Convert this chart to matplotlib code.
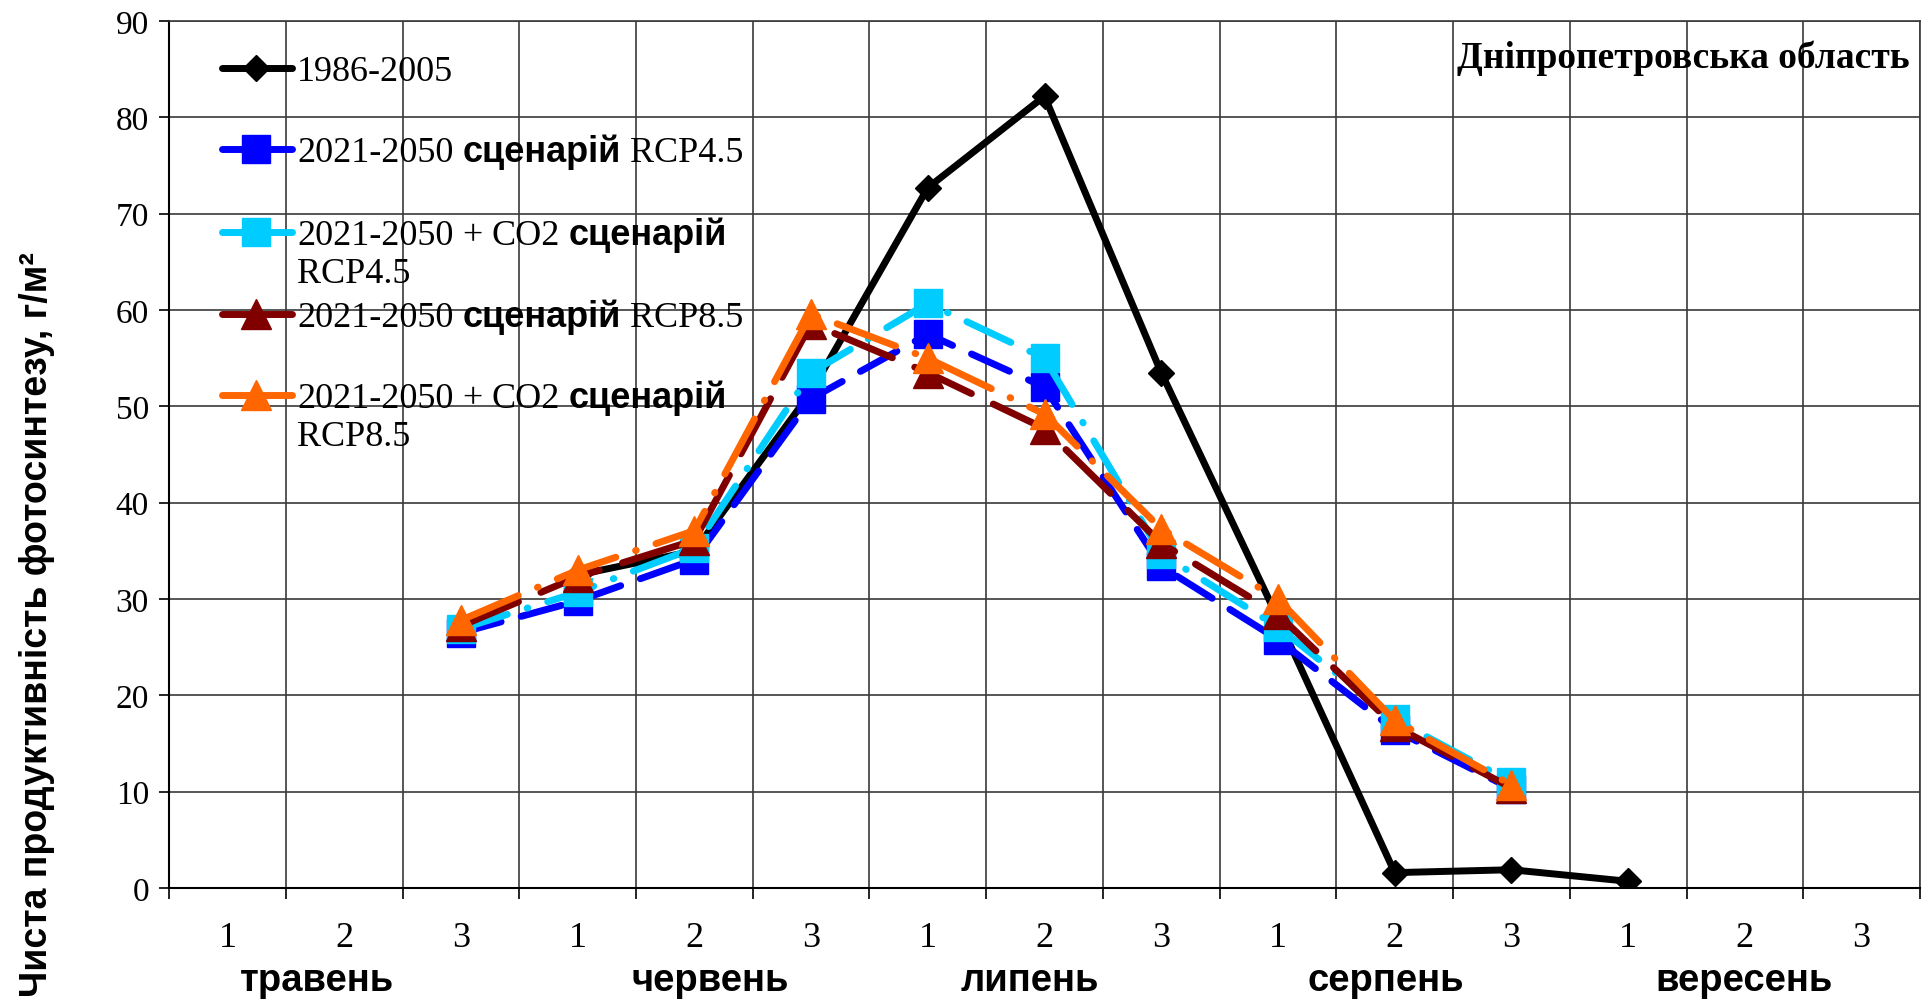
# -*- coding: utf-8 -*-
import matplotlib
matplotlib.use('Agg')
import matplotlib.pyplot as plt
from matplotlib.font_manager import FontProperties
from matplotlib.lines import Line2D
import numpy as np

nan = np.nan

# decades: травень..вересень, 1-3 декада
decades = ['1', '2', '3'] * 5
months = ['травень', 'червень', 'липень', 'серпень', 'вересень']
month_pos = [0.77, 4.14, 6.87, 9.92, 12.99]

base_1986 = [nan, nan, nan, 32.5, 35.0, 51.5, 72.7, 82.2, 53.5, 28.0, 1.6, 1.9, 0.7, nan, nan]
rcp45 = [nan, nan, 26.5, 29.8, 34.1, 50.8, 57.5, 52.0, 33.4, 25.8, 16.4, 10.3, nan, nan, nan]
rcp45_co2 = [nan, nan, 26.9, 30.7, 35.3, 53.5, 60.7, 55.0, 34.7, 27.1, 17.5, 11.0, nan, nan, nan]
rcp85 = [nan, nan, 27.2, 32.3, 36.1, 58.6, 53.5, 47.7, 35.8, 28.4, 16.8, 10.4, nan, nan, nan]
rcp85_co2 = [nan, nan, 27.8, 33.0, 37.1, 59.6, 55.0, 49.2, 37.3, 30.0, 17.4, 10.7, nan, nan, nan]

labels = ['1986-2005',
          '2021-2050 сценарій RCP4.5',
          '2021-2050 + CO2 сценарій|RCP4.5',
          '2021-2050 сценарій RCP8.5',
          '2021-2050 + CO2 сценарій|RCP8.5']

W, H = 1930, 1004
fig = plt.figure(figsize=(W / 100, H / 100), dpi=100)
ax = fig.add_axes([0.0876, 0.1145, 0.9072, 0.8635])

serif = FontProperties(family='Liberation Serif', size=26)
serif_y = FontProperties(family='Liberation Serif', size=24)
serif_x = FontProperties(family='Liberation Serif', size=26)
sans_b = FontProperties(family='Liberation Sans', weight='bold', size=26)
month_fp = FontProperties(family='Liberation Sans', weight='bold', size=27.5)

x = np.arange(15)
LW = 5.0
styles = [
    dict(color='black', marker='D', ms=13, ls='-'),
    dict(color='#0000ff', marker='s', ms=20, dashes=(6, 3)),
    dict(color='#00ccff', marker='s', ms=20, dashes=(7, 3, 0.1, 3)),
    dict(color='#800000', marker='^', ms=21, dashes=(9, 3.5)),
    dict(color='#ff6600', marker='^', ms=21, dashes=(9, 3, 0.1, 3)),
]
series = [base_1986, rcp45, rcp45_co2, rcp85, rcp85_co2]
for i, (ys, st) in enumerate(zip(series, styles)):
    ax.plot(x, ys, lw=LW, mec=st['color'], mfc=st['color'],
            dash_capstyle='round', solid_capstyle='round', zorder=3 + i, **st)

ax.set_xlim(-0.5, 14.5)
ax.set_ylim(0, 90)
ax.set_yticks(np.arange(0, 91, 10))
ax.set_xticks(np.arange(-0.5, 15, 1))
ax.set_xticklabels([])
ax.set_xticks(x, minor=True)
ax.set_xticklabels(decades, minor=True, fontproperties=serif_x)
for lab in ax.get_yticklabels():
    lab.set_fontproperties(serif_y)
ax.tick_params(axis='x', which='major', direction='out', length=8, width=1.2)
ax.tick_params(axis='x', which='minor', length=0, pad=23.5)
ax.tick_params(axis='y', direction='out', length=7, width=1.2, pad=7.5)
ax.grid(True, which='major', color='#3a3a3a', lw=1.2)
ax.set_axisbelow(True)
for s in ['top', 'right']:
    ax.spines[s].set_color('#3a3a3a')
    ax.spines[s].set_linewidth(1.2)
for s in ['left', 'bottom']:
    ax.spines[s].set_linewidth(1.5)

for m, p in zip(months, month_pos):
    ax.text(p, -0.1176, m, transform=ax.get_xaxis_transform(), ha='center', va='baseline',
            fontproperties=month_fp)

fig.text(37 / W, 1 - 625 / H, 'Чиста продуктивність фотосинтезу, г/м²',
         rotation=90, ha='center', va='center',
         family=['Liberation Sans Narrow', 'Liberation Sans'], weight='bold', size=27)

fig.text(1910 / W, 1 - 58 / H, 'Дніпропетровська область', ha='right', va='center',
         family='Liberation Serif', weight='bold', size=27)

# legend drawn by hand: mixed fonts in each entry
renderer = fig.canvas.get_renderer()
space = 9


def put_words(x0, ybase, text):
    xx = x0
    for w in text.split(' '):
        fp = sans_b if w == 'сценарій' else serif
        t = fig.text(xx / W, 1 - ybase / H, w, fontproperties=fp, va='baseline', ha='left')
        xx += t.get_window_extent(renderer).width + space


entry_y = [69, 150, 233, 315, 396]
for lab, st, yc in zip(labels, styles, entry_y):
    ln = Line2D([222 / W, 292 / W], [1 - yc / H, 1 - yc / H], transform=fig.transFigure,
                color=st['color'], lw=LW, solid_capstyle='round')
    fig.add_artist(ln)
    mk = Line2D([256 / W], [1 - yc / H], transform=fig.transFigure, marker=st['marker'],
                ms=st['ms'], color=st['color'], mec=st['color'], ls='none')
    fig.add_artist(mk)
    lines = lab.split('|')
    for k, line in enumerate(lines):
        put_words(297, yc + 12 + k * 38, line)

fig.savefig('out.png', dpi=100)
